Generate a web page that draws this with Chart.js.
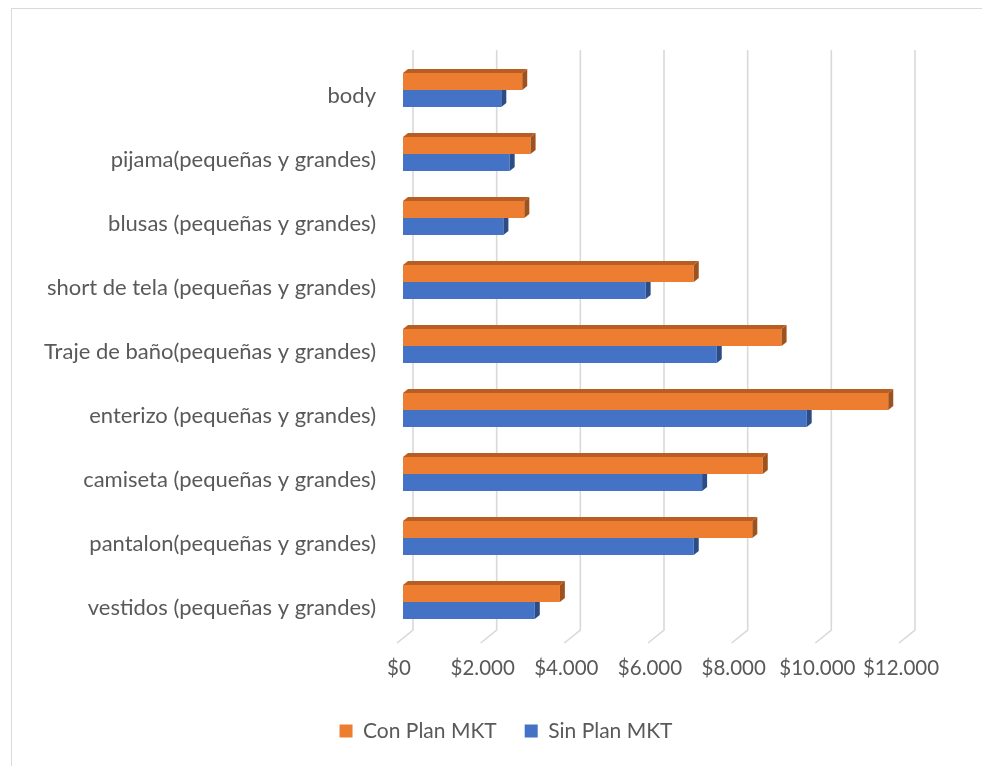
<!DOCTYPE html>
<html>
<head>
<meta charset="utf-8">
<script src="https://cdn.jsdelivr.net/npm/chart.js@4/dist/chart.umd.min.js"></script>
<style>
  html, body { margin: 0; padding: 0; background: #fff; overflow: hidden; }
  #frame { position: absolute; left: 11px; top: 8px; width: 1000px; height: 800px;
           border-left: 1px solid #d9d9d9; border-top: 1px solid #d9d9d9; }
  #wrap { position: absolute; left: 11px; top: 8px; width: 990px; height: 780px; }
</style>
</head>
<body>
<div id="frame"></div>
<div id="wrap"><canvas id="chart" width="990" height="780"></canvas></div>
<script>
const categorias = [
  "body",
  "pijama(pequeñas y grandes)",
  "blusas (pequeñas y grandes)",
  "short de tela (pequeñas y grandes)",
  "Traje de baño(pequeñas y grandes)",
  "enterizo (pequeñas y grandes)",
  "camiseta (pequeñas y grandes)",
  "pantalon(pequeñas y grandes)",
  "vestidos (pequeñas y grandes)"
];
const conPlan = [2850, 3050, 2900, 6950, 9050, 11600, 8600, 8350, 3750];
const sinPlan = [2350, 2550, 2400, 5800, 7500, 9650, 7150, 6950, 3150];
const ticksX = ["$0", "$2.000", "$4.000", "$6.000", "$8.000", "$10.000", "$12.000"];

const FONT = "Lato, 'Open Sans', sans-serif";
const GRIS = "#595959";

// caras superior y lateral para dar profundidad a las barras
const DX = 5, DY = 4;
const barras3d = {
  id: "barras3d",
  afterLayout(chart) {
    // la leyenda va centrada en todo el recuadro, no solo sobre el área del gráfico
    chart.legend.left += 48;
    chart.legend.right += 48;
  },
  beforeDatasetsDraw(chart) {
    // lineas de la pared del fondo con su pie inclinado
    const { ctx, chartArea } = chart;
    const x = chart.scales.x;
    ctx.save();
    ctx.strokeStyle = "#d9d9d9";
    ctx.lineWidth = 1.6;
    x.ticks.forEach(t => {
      const px = x.getPixelForValue(t.value);
      ctx.beginPath();
      ctx.moveTo(px + 10, chartArea.top - 8);
      ctx.lineTo(px + 10, chartArea.bottom - 4);
      ctx.lineTo(px - 6, chartArea.bottom + 9);
      ctx.stroke();
    });
    ctx.restore();
  },
  afterDatasetsDraw(chart) {
    const ctx = chart.ctx;
    const caras = [
      { top: "#b85e22", side: "#a0521c" },
      { top: "#2f5597", side: "#2b4c86" }
    ];
    // primero la serie azul (recortada bajo la naranja), luego la naranja
    [1, 0].forEach(di => {
      const meta = chart.getDatasetMeta(di);
      meta.data.forEach(bar => {
        const p = bar.getProps(["x", "y", "base", "height"], true);
        const top = p.y - p.height / 2, bottom = p.y + p.height / 2;
        const left = p.base, right = p.x;
        ctx.save();
        if (di === 1) {
          ctx.beginPath();
          ctx.rect(0, top, chart.width, chart.height);
          ctx.clip();
        }
        ctx.fillStyle = caras[di].top;
        ctx.beginPath();
        ctx.moveTo(left, top);
        ctx.lineTo(left + DX, top - DY);
        ctx.lineTo(right + DX, top - DY);
        ctx.lineTo(right, top);
        ctx.closePath();
        ctx.fill();
        ctx.fillStyle = caras[di].side;
        ctx.beginPath();
        ctx.moveTo(right, top);
        ctx.lineTo(right + DX, top - DY);
        ctx.lineTo(right + DX, bottom - DY);
        ctx.lineTo(right, bottom);
        ctx.closePath();
        ctx.fill();
        ctx.restore();
      });
    });
  }
};

new Chart(document.getElementById("chart"), {
  type: "bar",
  data: {
    labels: categorias,
    datasets: [
      { label: "Con Plan MKT", data: conPlan, backgroundColor: "#ED7D31", borderWidth: 0 },
      { label: "Sin Plan MKT", data: sinPlan, backgroundColor: "#4472C4", borderWidth: 0 }
    ]
  },
  options: {
    indexAxis: "y",
    responsive: false,
    animation: false,
    layout: { padding: { top: 50, right: 96, left: 0, bottom: 36.5 } },
    datasets: { bar: { categoryPercentage: 0.53, barPercentage: 1 } },
    scales: {
      x: {
        min: 0, max: 12000,
        grid: { display: false, drawTicks: false },
        border: { display: false },
        afterFit(s) { s.height = 58.5; },
        ticks: {
          stepSize: 2000,
          padding: 22,
          labelOffset: -4,
          autoSkip: false,
          maxRotation: 0,
          minRotation: 0,
          color: GRIS,
          font: { family: FONT, size: 20.5 },
          callback: (v, i) => ticksX[i]
        }
      },
      y: {
        grid: { display: false, drawTicks: false },
        border: { display: false },
        afterFit(s) { s.width = 392; },
        ticks: {
          padding: 27,
          labelOffset: 6,
          color: GRIS,
          font: { family: FONT, size: 22 }
        }
      }
    },
    plugins: {
      legend: {
        position: "bottom",
        labels: {
          boxWidth: 13, boxHeight: 13, padding: 28,
          color: GRIS,
          font: { family: FONT, size: 21 }
        }
      },
      tooltip: { enabled: false }
    }
  },
  plugins: [barras3d]
});
</script>
</body>
</html>
